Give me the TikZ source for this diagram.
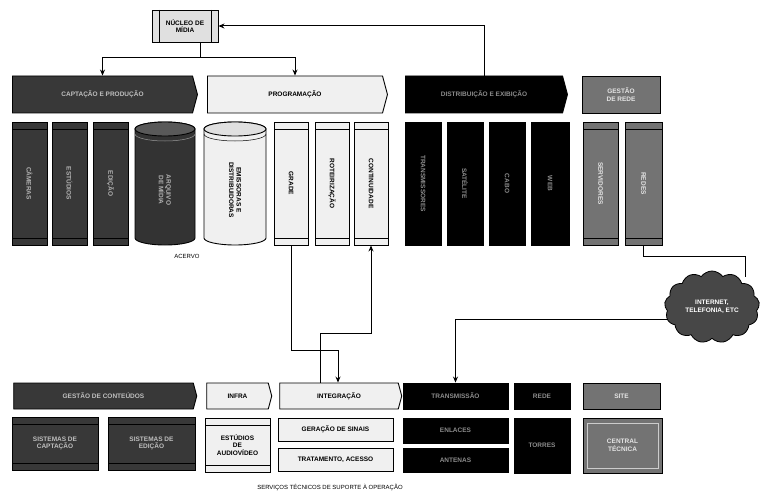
\documentclass[tikz,border=0pt]{standalone}
\usepackage{fontspec}
\setsansfont{Liberation Sans}
\usetikzlibrary{shapes.symbols,shapes.geometric,arrows.meta}
\begin{document}
\begin{tikzpicture}[x=1pt,y=-1pt,
 lbl/.style={font=\sffamily\bfseries\fontsize{6.5}{7.5}\selectfont, align=center, inner sep=1pt},
 base/.style={draw=black, line width=0.9pt, lbl},
 light/.style={base, fill=black!6, text=black},
 dark/.style={base, fill=black!78, text=black!25},
 blk/.style={base, fill=black, text=black!45},
 mid/.style={base, fill=black!55, text=black!10},
 hdr/.style={signal, signal to=east, signal from=nowhere, signal pointer angle=150},
 col/.style={minimum height=123},
 bands/.style={path picture={\draw[line width=0.6pt]
   ([yshift=-7pt]path picture bounding box.north west) -- ([yshift=-7pt]path picture bounding box.north east)
   ([yshift=7pt]path picture bounding box.south west) -- ([yshift=7pt]path picture bounding box.south east);}},
 vbars/.style={path picture={\draw[line width=0.8pt]
   ([xshift=7pt]path picture bounding box.north west) -- ([xshift=7pt]path picture bounding box.south west)
   ([xshift=-7pt]path picture bounding box.north east) -- ([xshift=-7pt]path picture bounding box.south east);}},
 inner/.style={path picture={\draw[line width=0.6pt, black!20]
   ([xshift=4pt,yshift=-5pt]path picture bounding box.north west) rectangle ([xshift=-4pt,yshift=5pt]path picture bounding box.south east);}},
 conn/.style={line width=1pt},
 arr/.style={conn, -{Stealth[length=6pt,width=5pt]}},
 rot/.style={lbl, rotate=-90}
]
\fill[white] (0,0) rectangle (761,495);
\useasboundingbox (0,0) rectangle (761,495);

% top box
\node[light, vbars, minimum width=66, minimum height=32, fill=black!12] (top) at (185,26) {NÚCLEO DE\\MÍDIA};

% top headers
\node[dark, hdr, minimum width=185, minimum height=37] (hA) at (102.5,94.5) {CAPTAÇÃO E PRODUÇÃO};
\node[light, hdr, minimum width=180, minimum height=37] (hB) at (295,94.5) {PROGRAMAÇÃO};
\node[blk, hdr, minimum width=162, minimum height=37] (hC) at (484,94.5) {DISTRIBUIÇÃO E EXIBIÇÃO};
\node[mid, minimum width=78, minimum height=37] (hD) at (621,94.5) {GESTÃO\\DE REDE};

% dark books
\node[dark, col, bands, minimum width=35] (d1) at (29.5,183.5) {};
\node[dark, col, bands, minimum width=35] (d2) at (69.5,183.5) {};
\node[dark, col, bands, minimum width=35] (d3) at (110.5,183.5) {};
\node[rot, text=black!30] (d1t) at (d1) {CÂMERAS};
\node[rot, text=black!30] (d2t) at (d2) {ESTÚDIOS};
\node[rot, text=black!30] (d3t) at (d3) {EDIÇÃO};

% dark cylinder
\draw[line width=0.9pt, fill=black!80] (135,129) -- (135,238) arc[start angle=180,end angle=0,x radius=30,y radius=7] -- (195,129) arc[start angle=0,end angle=-180,x radius=30,y radius=7] -- cycle;
\draw[line width=0.9pt, fill=black!65] (165,129) ellipse[x radius=30,y radius=7];
\draw[line width=0.5pt, black!40] (135,134) arc[start angle=180,end angle=0,x radius=30,y radius=7];
\node[rot, text=black!30] (cy1) at (165,190) {ARQUIVO\\DE MÍDIA};

% light cylinder
\draw[line width=0.9pt, fill=black!6] (204,129) -- (204,238) arc[start angle=180,end angle=0,x radius=31,y radius=7] -- (266,129) arc[start angle=0,end angle=-180,x radius=31,y radius=7] -- cycle;
\draw[line width=0.9pt, fill=black!12] (235,129) ellipse[x radius=31,y radius=7];
\draw[line width=0.5pt] (204,134) arc[start angle=180,end angle=0,x radius=31,y radius=7];
\node[rot] (cy2) at (235,190) {EMISSORAS E\\DISTRIBUIDORAS};

% light books
\node[light, col, bands, minimum width=34] (l1) at (291,183.5) {};
\node[light, col, bands, minimum width=34] (l2) at (332,183.5) {};
\node[light, col, bands, minimum width=34] (l3) at (371,183.5) {};
\node[rot] (l1t) at (l1) {GRADE};
\node[rot] (l2t) at (l2) {ROTEIRIZAÇÃO};
\node[rot] (l3t) at (l3) {CONTINUIDADE};

% black columns
\node[blk, col, minimum width=36] (k1) at (423,183.5) {};
\node[blk, col, minimum width=36] (k2) at (465,183.5) {};
\node[blk, col, minimum width=36] (k3) at (507,183.5) {};
\node[blk, col, minimum width=38] (k4) at (550,183.5) {};
\node[rot, text=black!45] (k1t) at (k1) {TRANSMISSORES};
\node[rot, text=black!45] (k2t) at (k2) {SATÉLITE};
\node[rot, text=black!45] (k3t) at (k3) {CABO};
\node[rot, text=black!45] (k4t) at (k4) {WEB};

% mid gray books
\node[mid, col, bands, minimum width=35] (g1) at (600.5,183.5) {};
\node[mid, col, bands, minimum width=37] (g2) at (643.5,183.5) {};
\node[rot, text=black!10] (g1t) at (g1) {SERVIDORES};
\node[rot, text=black!10] (g2t) at (g2) {REDES};

\node[lbl, font=\sffamily\fontsize{6}{7}\selectfont] (acervo) at (187,256) {ACERVO};

% cloud
\node[cloud, cloud puffs=13, cloud puff arc=110, aspect=1.4, draw=black, line width=0.8pt, fill=black!72, text=white, lbl, minimum width=95, minimum height=72] (cloud) at (712,307) {INTERNET,\\TELEFONIA, ETC};

% bottom headers
\node[dark, hdr, minimum width=183, minimum height=26] (bA) at (103.5,396) {GESTÃO DE CONTEÚDOS};
\node[light, hdr, minimum width=65, minimum height=26] (bB) at (237.5,396) {INFRA};
\node[light, hdr, minimum width=122, minimum height=26] (bC) at (339,396) {INTEGRAÇÃO};
\node[blk, minimum width=105, minimum height=26] (bD) at (455.5,396) {TRANSMISSÃO};
\node[blk, minimum width=56, minimum height=26] (bE) at (542,396) {REDE};
\node[mid, minimum width=77, minimum height=26] (bF) at (621.5,396) {SITE};

% bottom boxes
\node[dark, bands, minimum width=86, minimum height=53] (b1) at (55,443.5) {SISTEMAS DE\\CAPTAÇÃO};
\node[dark, bands, minimum width=87, minimum height=53] (b2) at (151.5,443.5) {SISTEMAS DE\\EDIÇÃO};
\node[light, bands, minimum width=65, minimum height=54] (b3) at (237.5,445) {ESTÚDIOS\\DE\\AUDIOVÍDEO};
\node[light, minimum width=115, minimum height=23] (b4) at (335.5,429.5) {GERAÇÃO DE SINAIS};
\node[light, minimum width=115, minimum height=23] (b5) at (335.5,459.5) {TRATAMENTO, ACESSO};
\node[blk, minimum width=105, minimum height=25] (b6) at (455.5,430.5) {ENLACES};
\node[blk, minimum width=105, minimum height=24] (b7) at (455.5,460) {ANTENAS};
\node[blk, minimum width=56, minimum height=55] (b8) at (542,445.5) {TORRES};
\node[mid, inner, minimum width=79, minimum height=55] (b9) at (622.5,445.5) {CENTRAL\\TÉCNICA};

\node[lbl, font=\sffamily\fontsize{6}{7}\selectfont] (cap) at (330,487) {SERVIÇOS TÉCNICOS DE SUPORTE À OPERAÇÃO};

% connectors
\coordinate (j) at (200,58);
\draw[conn] (top.south -| j) -- (j);
\draw[arr] (j) -| (hA.north);
\draw[arr] (j) -| (hB.north);
\draw[arr] (hC.north) |- (top.east);

\coordinate (c1) at (745,256);
\coordinate (c2) at (745,277);
\draw[conn] (g2.south) |- (c1) -- (c2);
\draw[arr] (cloud.195) -| (bD.north);

\coordinate (pa) at (320,333);
\coordinate (pb) at (338,350);
\draw[arr] (bC.north -| pa) -- (pa) -| (l3.south);
\draw[arr] (l1.south) |- (pb) -- (bC.north -| pb);
\end{tikzpicture}
\end{document}
